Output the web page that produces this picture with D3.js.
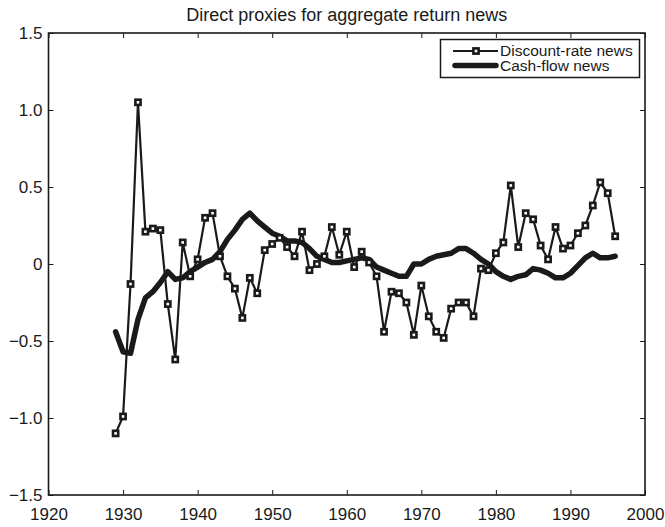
<!DOCTYPE html>
<html>
<head>
<meta charset="utf-8">
<script src="https://cdn.jsdelivr.net/npm/d3@7"></script>
<style>
  body { margin: 0; background: #fff; }
  text { font-family: "Liberation Sans", Arial, sans-serif; fill: #1a1a1a; }
</style>
</head>
<body>
<div class="container"></div>
<script>
var margin = {top: 33, right: 20, bottom: 32, left: 48.5},
    width = 645 - margin.left,
    height = 495 - margin.top;

var years = [1929,1930,1931,1932,1933,1934,1935,1936,1937,1938,1939,1940,1941,1942,1943,1944,1945,1946,1947,1948,
             1949,1950,1951,1952,1953,1954,1955,1956,1957,1958,1959,1960,1961,1962,1963,1964,1965,1966,1967,1968,
             1969,1970,1971,1972,1973,1974,1975,1976,1977,1978,1979,1980,1981,1982,1983,1984,1985,1986,1987,1988,
             1989,1990,1991,1992,1993,1994,1995,1996];

// discount-rate news (line with square markers)
var discount = [-1.10,-0.99,-0.13,1.05,0.21,0.23,0.22,-0.26,-0.62,0.14,-0.08,0.03,0.30,0.33,0.05,-0.08,-0.16,-0.35,-0.09,-0.19,
                0.09,0.13,0.17,0.11,0.05,0.21,-0.04,0.00,0.05,0.24,0.06,0.21,-0.02,0.08,0.01,-0.08,-0.44,-0.18,-0.19,-0.25,
                -0.46,-0.14,-0.34,-0.44,-0.48,-0.29,-0.25,-0.25,-0.34,-0.03,-0.04,0.07,0.14,0.51,0.11,0.33,0.29,0.12,0.03,0.24,
                0.10,0.12,0.20,0.25,0.38,0.53,0.46,0.18];

// cash-flow news (thick line)
var cashflow = [-0.44,-0.57,-0.58,-0.36,-0.22,-0.18,-0.12,-0.05,-0.10,-0.09,-0.05,-0.02,0.01,0.03,0.08,0.16,0.22,0.29,0.33,0.28,
                0.24,0.20,0.18,0.15,0.15,0.14,0.10,0.05,0.03,0.01,0.01,0.02,0.03,0.04,0.03,-0.02,-0.04,-0.06,-0.08,-0.08,
                0.00,0.00,0.03,0.05,0.06,0.07,0.10,0.10,0.07,0.03,0.00,-0.05,-0.08,-0.10,-0.08,-0.07,-0.03,-0.04,-0.06,-0.09,
                -0.09,-0.06,-0.01,0.04,0.07,0.04,0.04,0.05];

var xTicks = [1920,1930,1940,1950,1960,1970,1980,1990,2000];
var yTicks = [-1.5,-1.0,-0.5,0,0.5,1.0,1.5];
var title = "Direct proxies for aggregate return news";
var seriesNames = ["Discount-rate news", "Cash-flow news"];

var x_scale = d3.scaleLinear().domain([1920, 2000]).range([0, width]);
var y_scale = d3.scaleLinear().domain([-1.5, 1.5]).range([height, 0]);

var svg = d3.select("div.container").append("svg")
    .attr("width", 665)
    .attr("height", 527);

var g = svg.append("g")
    .attr("transform", "translate(" + margin.left + "," + margin.top + ")");

var fmtY = function(d) { return d === 0 ? "0" : d3.format(".1f")(d); };

// axes, ticks pointing inward
g.append("g")
    .attr("transform", "translate(0," + height + ")")
    .call(d3.axisBottom(x_scale).tickValues(xTicks).tickFormat(d3.format("d"))
          .tickSizeInner(-5).tickSizeOuter(0).tickPadding(13));
g.append("g")
    .call(d3.axisTop(x_scale).tickValues(xTicks).tickFormat("")
          .tickSizeInner(-5).tickSizeOuter(0));
g.append("g")
    .call(d3.axisLeft(y_scale).tickValues(yTicks).tickFormat(fmtY)
          .tickSizeInner(-5).tickSizeOuter(0).tickPadding(6));
g.append("g")
    .attr("transform", "translate(" + width + ",0)")
    .call(d3.axisRight(y_scale).tickValues(yTicks).tickFormat("")
          .tickSizeInner(-5).tickSizeOuter(0));

g.selectAll(".domain").remove();
g.selectAll(".tick line").attr("stroke", "#1a1a1a").attr("stroke-width", 1);
g.selectAll(".tick text").style("font-size", "17px").attr("fill", "#1a1a1a");

g.append("rect")
    .attr("width", width)
    .attr("height", height)
    .attr("fill", "none")
    .attr("stroke", "#1a1a1a")
    .attr("stroke-width", 1.6);

var dataDR = years.map(function(y, i) { return [y, discount[i]]; });
var dataCF = years.map(function(y, i) { return [y, cashflow[i]]; });

var line = d3.line()
    .x(function(d) { return x_scale(d[0]); })
    .y(function(d) { return y_scale(d[1]); });

g.append("path")
    .datum(dataCF)
    .attr("fill", "none")
    .attr("stroke", "#1a1a1a")
    .attr("stroke-width", 5.5)
    .attr("stroke-linejoin", "round")
    .attr("stroke-linecap", "round")
    .attr("d", line);

g.append("path")
    .datum(dataDR)
    .attr("fill", "none")
    .attr("stroke", "#1a1a1a")
    .attr("stroke-width", 2.2)
    .attr("stroke-linejoin", "round")
    .attr("d", line);

g.selectAll(".marker")
    .data(dataDR)
    .enter().append("rect")
    .attr("class", "marker")
    .attr("x", function(d) { return x_scale(d[0]) - 2.6; })
    .attr("y", function(d) { return y_scale(d[1]) - 2.6; })
    .attr("width", 5.2)
    .attr("height", 5.2)
    .attr("fill", "#fff")
    .attr("stroke", "#1a1a1a")
    .attr("stroke-width", 2.6);

// title
svg.append("text")
    .attr("x", margin.left + width / 2)
    .attr("y", 20.5)
    .attr("text-anchor", "middle")
    .style("font-size", "18px")
    .text(title);

// legend
var leg = svg.append("g");
leg.append("rect")
    .attr("x", 440.5).attr("y", 39.5)
    .attr("width", 199).attr("height", 38)
    .attr("fill", "#fff")
    .attr("stroke", "#1a1a1a")
    .attr("stroke-width", 1.5);

leg.append("line")
    .attr("x1", 453).attr("x2", 498).attr("y1", 51).attr("y2", 51)
    .attr("stroke", "#1a1a1a").attr("stroke-width", 2.2);
leg.append("rect")
    .attr("x", 473.4).attr("y", 48.4).attr("width", 5.2).attr("height", 5.2)
    .attr("fill", "#fff").attr("stroke", "#1a1a1a").attr("stroke-width", 2.6);
leg.append("line")
    .attr("x1", 455).attr("x2", 496).attr("y1", 65.5).attr("y2", 65.5)
    .attr("stroke", "#1a1a1a").attr("stroke-width", 5.5)
    .attr("stroke-linecap", "round");

leg.selectAll(".legtext")
    .data(seriesNames)
    .enter().append("text")
    .attr("class", "legtext")
    .attr("x", 500)
    .attr("y", function(d, i) { return 51 + i * 15; })
    .attr("dy", "0.35em")
    .style("font-size", "15.5px")
    .text(function(d) { return d; });
</script>
</body>
</html>
